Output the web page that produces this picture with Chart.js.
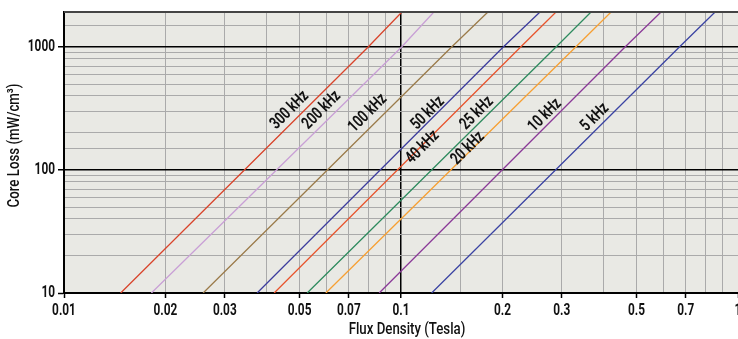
<!DOCTYPE html>
<html>
<head>
<meta charset="utf-8">
<script src="https://cdn.jsdelivr.net/npm/chart.js@4/dist/chart.umd.min.js"></script>
<style>
  html, body { margin: 0; padding: 0; background: #fff; }
  #wrap { width: 738px; height: 339px; }
</style>
</head>
<body>
<div id="wrap"><canvas id="js--chart--1" width="738" height="339"></canvas></div>
<script>
// frequencies (one line each)
const freqs = ["300 kHz", "200 kHz", "100 kHz", "50 kHz", "40 kHz", "25 kHz", "20 kHz", "10 kHz", "5 kHz"];
const colors = ["#d9442b", "#c9a0d6", "#9b7b4a", "#3d3d9e", "#e8552e", "#2e8b5e", "#f7a033", "#8b3a98", "#3b44a3"];

const lossLevels = [10, 1000, 1925];
// flux density (Tesla) at each of those loss levels
const fluxAt10   = [0.01473, 0.01817, 0.02587, 0.03741, 0.04203, 0.05267, 0.05984, 0.08615, 0.1233];
const fluxAt1000 = [0.0799, 0.1004, 0.1413, 0.2011, 0.2265, 0.2884, 0.330, 0.4622, 0.670];
const fluxAtTop  = [0.1006, 0.1252, 0.1811, 0.2585, 0.2884, 0.3663, 0.4201, 0.5911, 0.855];

// where the frequency labels sit
const labelFlux = [0.04679, 0.05823, 0.07976, 0.1202, 0.1161, 0.168, 0.158, 0.2675, 0.3765];
const labelLoss = [306, 306, 289, 289, 153, 289, 150, 278, 268];

// tick labels
const xTickLabels = [0.01, 0.02, 0.03, 0.05, 0.07, 0.1, 0.2, 0.3, 0.5, 0.7, 1];
const yTickLabels = [10, 100, 1000];
const xMajor = [0.1];
const yMajor = [100, 1000];

const FONT = 'Roboto, "Liberation Sans", sans-serif';

function near(v, list) {
    return list.some(t => Math.abs(v - t) / t < 1e-6);
}

// narrow text: the original uses a condensed face, so squeeze horizontally
function narrowText(ctx, text, x, y, size, weight, squeeze, align, angle) {
    ctx.save();
    ctx.translate(x, y);
    if (angle) ctx.rotate(angle);
    ctx.scale(squeeze, 1);
    ctx.font = weight + ' ' + size + 'px ' + FONT;
    ctx.fillStyle = '#111';
    ctx.textAlign = align;
    ctx.textBaseline = 'middle';
    ctx.fillText(text, 0, 0);
    ctx.restore();
}

const datasets = freqs.map((f, i) => ({
    label: f,
    data: [
        { x: fluxAt10[i], y: lossLevels[0] },
        { x: fluxAt1000[i], y: lossLevels[1] },
        { x: fluxAtTop[i], y: lossLevels[2] },
    ],
    borderColor: colors[i],
    borderWidth: 1.3,
    pointRadius: 0,
    tension: 0,
}));

const plotBg = {
    id: 'plotBg',
    beforeDraw(chart) {
        const a = chart.chartArea, ctx = chart.ctx;
        ctx.save();
        ctx.fillStyle = '#e9e9e4';
        ctx.fillRect(a.left, a.top, a.right - a.left, a.bottom - a.top);
        ctx.restore();
    },
    afterDraw(chart) {
        const a = chart.chartArea, ctx = chart.ctx;
        const xs = chart.scales.x, ys = chart.scales.y;
        ctx.save();
        ctx.strokeStyle = '#444';
        ctx.lineWidth = 2;
        ctx.beginPath();
        ctx.moveTo(a.left, a.top);
        ctx.lineTo(a.right, a.top);
        ctx.stroke();
        ctx.restore();

        // tick labels
        xTickLabels.forEach(v => {
            narrowText(ctx, String(v), xs.getPixelForValue(v), a.bottom + 18, 16, 700, 0.74, 'center', 0);
        });
        yTickLabels.forEach(v => {
            narrowText(ctx, String(v), a.left - 9, ys.getPixelForValue(v), 16, 700, 0.74, 'right', 0);
        });
        // axis titles
        narrowText(ctx, 'Flux Density (Tesla)', (a.left + a.right) / 2 + 6, a.bottom + 37, 17, 500, 0.78, 'center', 0);
        narrowText(ctx, 'Core Loss (mW/cm³)', 15, (a.top + a.bottom) / 2 - 7, 17, 500, 0.78, 'center', -Math.PI / 2);
    }
};

const lineLabels = {
    id: 'lineLabels',
    afterDatasetsDraw(chart) {
        const ctx = chart.ctx;
        const xs = chart.scales.x, ys = chart.scales.y;
        freqs.forEach((f, i) => {
            const px = xs.getPixelForValue(labelFlux[i]);
            const py = ys.getPixelForValue(labelLoss[i]);
            narrowText(ctx, f, px, py, 17, 700, 0.74, 'center', -Math.PI / 4);
        });
    }
};

const config = {
    type: 'line',
    data: { datasets: datasets },
    options: {
        responsive: false,
        animation: false,
        layout: { padding: { top: 12, left: 0, right: 0, bottom: 0 } },
        plugins: {
            legend: { display: false },
            tooltip: { enabled: false },
        },
        scales: {
            x: {
                type: 'logarithmic',
                min: 0.01,
                max: 1,
                border: { color: '#000', width: 2 },
                grid: {
                    color: (c) => near(c.tick.value, xMajor) ? '#000' : '#aaa',
                    lineWidth: (c) => near(c.tick.value, xMajor) ? 1.5 : 1,
                    tickColor: (c) => near(c.tick.value, xTickLabels) ? '#000' : 'rgba(0,0,0,0)',
                    tickLength: 5,
                    tickWidth: 1.5,
                },
                ticks: { display: false, autoSkip: false },
                afterFit(scale) {
                    scale.height = 46;
                    scale.paddingLeft = 0;
                    scale.paddingRight = 0;
                },
            },
            y: {
                type: 'logarithmic',
                min: 10,
                max: 1925,
                border: { color: '#000', width: 2 },
                grid: {
                    color: (c) => near(c.tick.value, yMajor) ? '#000' : (c.tick.value >= 1925 ? '#444' : '#aaa'),
                    lineWidth: (c) => near(c.tick.value, yMajor) ? 1.5 : 1,
                    tickColor: (c) => near(c.tick.value, yTickLabels) ? '#000' : 'rgba(0,0,0,0)',
                    tickLength: 6,
                    tickWidth: 1.5,
                },
                ticks: { display: false, autoSkip: false },
                afterFit(scale) {
                    scale.width = 64;
                    scale.paddingTop = 0;
                    scale.paddingBottom = 0;
                },
            },
        },
    },
    plugins: [plotBg, lineLabels],
};

new Chart(document.getElementById("js--chart--1"), config);
</script>
</body>
</html>
